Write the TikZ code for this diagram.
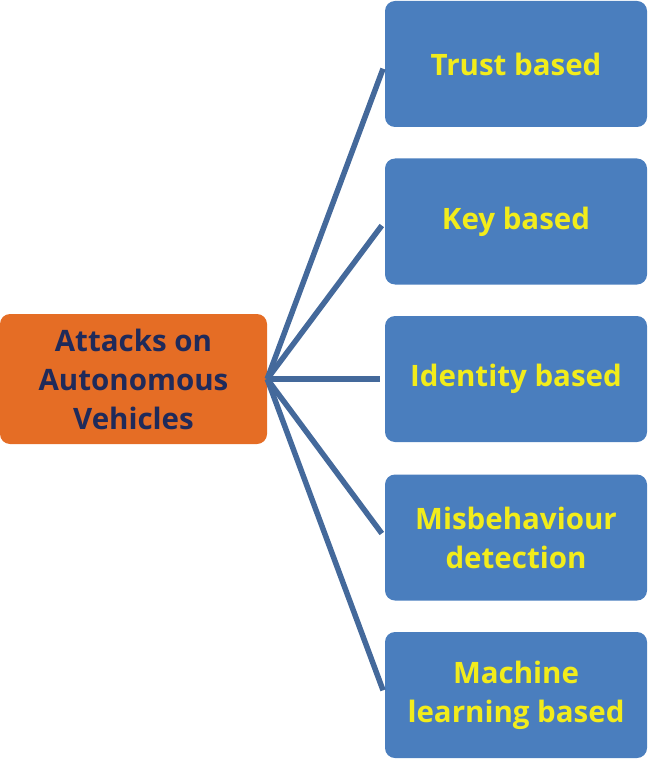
\documentclass[tikz,border=0pt]{standalone}
\usepackage{fontspec}
\setmainfont{Open Sans}
\definecolor{orangebox}{HTML}{E56D25}
\definecolor{bluebox}{HTML}{4A7EBE}
\definecolor{linkcol}{HTML}{44699B}
\definecolor{yellowtxt}{HTML}{F2EC1B}
\definecolor{navytxt}{HTML}{1F2A5A}
\begin{document}
\begin{tikzpicture}[x=1pt,y=-1pt,
  rootbox/.style={fill=orangebox, rounded corners=10pt, minimum width=267pt, minimum height=130pt, inner sep=0pt, align=center, text=navytxt, font=\fontsize{29.5}{39}\selectfont\bfseries},
  leafbox/.style={fill=bluebox, rounded corners=10pt, minimum width=262pt, minimum height=126pt, inner sep=0pt, align=center, text=yellowtxt, font=\fontsize{29.5}{39}\selectfont\bfseries},
  link/.style={draw=linkcol, line width=5.5pt, shorten >=5pt}]
\useasboundingbox (0,0) rectangle (648,759);
\node[rootbox] (root) at (133.5,379) {Attacks on\\Autonomous\\Vehicles};
\node[leafbox] (a) at (516,64) {Trust based};
\node[leafbox] (b) at (516,221.5) {Key based};
\node[leafbox] (c) at (516,379) {Identity based};
\node[leafbox] (d) at (516,537.5) {Misbehaviour\\detection};
\node[leafbox] (e) at (516,695) {Machine\\learning based};
\foreach \t in {a,b,c,d,e} \draw[link] (root.east) -- (\t.west);
\end{tikzpicture}
\end{document}
